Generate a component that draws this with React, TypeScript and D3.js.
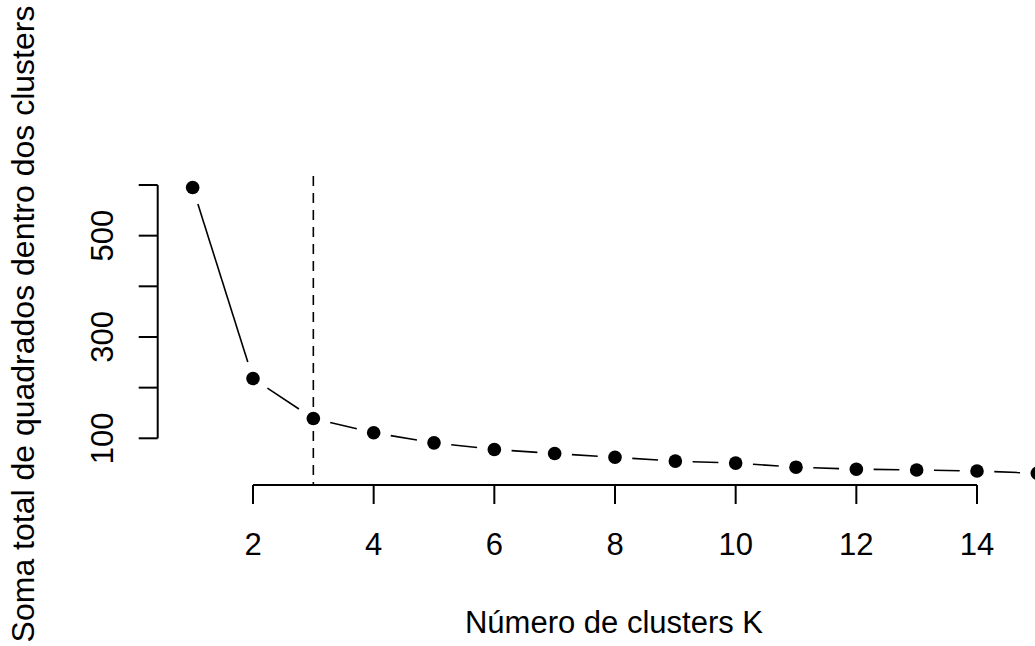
import React from "react";
import * as d3 from "d3";

const kValues: number[] = [1, 2, 3, 4, 5, 6, 7, 8, 9, 10, 11, 12, 13, 14, 15];
const wssValues: number[] = [595, 218, 139, 111, 91, 78, 70, 62.5, 55, 51, 43, 39, 37.5, 35.5, 31];
const xTicks: number[] = [2, 4, 6, 8, 10, 12, 14];
const yTicks: number[] = [100, 200, 300, 400, 500, 600];
const yTickLabels: string[] = ["100", "", "300", "", "500", ""];
const chosenK = 3;
const xTitle = "Número de clusters K";
const yTitle = "Soma total de quadrados dentro dos clusters";

const W = 1035;
const H = 646;
const FONT = "'Liberation Sans', Arial, Helvetica, sans-serif";

export default function App() {
  const x = d3.scaleLinear().domain([2, 14]).range([253, 977]);
  const y = d3.scaleLinear().domain([100, 600]).range([438.3, 185]);
  const plotTop = 176;
  const plotBottom = 485;
  const axisX = 157.7;
  const tickLen = 19;
  const gap = 17.3;

  const pts = kValues.map((k, i) => [x(k), y(wssValues[i])] as [number, number]);
  const segs: [number, number, number, number][] = [];
  for (let i = 0; i < pts.length - 1; i++) {
    const [x0, y0] = pts[i];
    const [x1, y1] = pts[i + 1];
    const dx = x1 - x0;
    const dy = y1 - y0;
    const len = Math.hypot(dx, dy);
    if (len <= 2 * gap) continue;
    const ux = dx / len;
    const uy = dy / len;
    segs.push([x0 + ux * gap, y0 + uy * gap, x1 - ux * gap, y1 - uy * gap]);
  }

  return (
    <svg
      width={W}
      height={H}
      style={{ position: "absolute", left: 0, top: 0, background: "#fff" }}
      fontFamily={FONT}
    >
      <rect x={0} y={0} width={W} height={H} fill="#fff" />
      {/* vertical dashed line at chosen K */}
      <line
        x1={x(chosenK)}
        x2={x(chosenK)}
        y1={plotTop}
        y2={plotBottom}
        stroke="#000"
        strokeWidth={1.6}
        strokeDasharray="10 7"
      />
      {/* connecting segments (type = "b") */}
      {segs.map((s, i) => (
        <line key={"s" + i} x1={s[0]} y1={s[1]} x2={s[2]} y2={s[3]} stroke="#000" strokeWidth={1.6} />
      ))}
      {pts.map((p, i) => (
        <circle key={"p" + i} cx={p[0]} cy={p[1]} r={6.8} fill="#000" />
      ))}
      {/* x axis */}
      <line x1={x(xTicks[0])} x2={x(xTicks[xTicks.length - 1])} y1={plotBottom} y2={plotBottom} stroke="#000" strokeWidth={2} />
      {xTicks.map((t) => (
        <g key={"xt" + t}>
          <line x1={x(t)} x2={x(t)} y1={plotBottom} y2={plotBottom + tickLen} stroke="#000" strokeWidth={2} />
          <text x={x(t)} y={555} textAnchor="middle" fontSize={31} fill="#000">
            {t}
          </text>
        </g>
      ))}
      {/* y axis */}
      <line x1={axisX} x2={axisX} y1={y(yTicks[yTicks.length - 1])} y2={y(yTicks[0])} stroke="#000" strokeWidth={2} />
      {yTicks.map((t, i) => (
        <g key={"yt" + t}>
          <line x1={axisX - tickLen} x2={axisX} y1={y(t)} y2={y(t)} stroke="#000" strokeWidth={2} />
          {yTickLabels[i] && (
            <text
              transform={`translate(113, ${y(t)}) rotate(-90)`}
              textAnchor="middle"
              fontSize={31}
              fill="#000"
            >
              {yTickLabels[i]}
            </text>
          )}
        </g>
      ))}
      {/* titles */}
      <text x={614} y={633} textAnchor="middle" fontSize={31} fill="#000">
        {xTitle}
      </text>
      <text transform={`translate(34, 324) rotate(-90)`} textAnchor="middle" fontSize={32} fill="#000">
        {yTitle}
      </text>
    </svg>
  );
}
